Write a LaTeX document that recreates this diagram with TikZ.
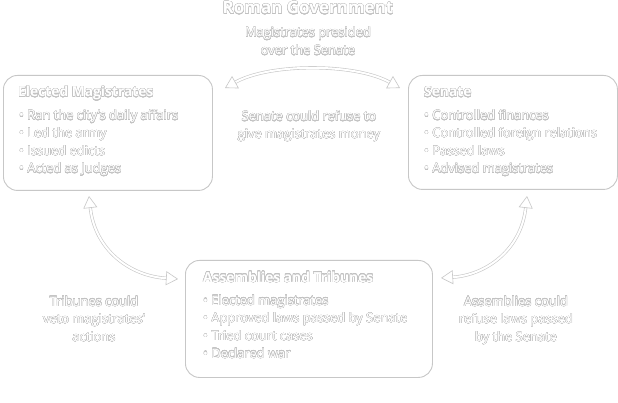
\documentclass[tikz,border=0pt]{standalone}
\usepackage{fontspec}
\setmainfont{Open Sans}
\usepackage{contour}
\usetikzlibrary{arrows.meta}
\definecolor{lineg}{gray}{0.78}
\definecolor{txtg}{gray}{0.76}
\contourlength{0.27pt}
\contournumber{24}
\newcommand\ot[1]{\contour{txtg}{#1}}
\begin{document}
\begin{tikzpicture}[x=1pt,y=-1pt,
  box/.style={draw=lineg, line width=0.9pt, rounded corners=14pt, fill=white, inner sep=0pt},
  txt/.style={inner sep=0pt, text=white, anchor=base west, font=\fontsize{12.9}{14}\selectfont},
  ctxt/.style={txt, anchor=base},
  hd/.style={inner sep=0pt, text=white, anchor=base west, font=\fontsize{13.8}{15}\selectfont\bfseries},
  ttl/.style={inner sep=0pt, text=white, anchor=base, font=\fontsize{17}{19}\selectfont\bfseries},
  arr/.style={draw=lineg, line width=0.6pt, double=white, double distance=2pt,
    {Triangle[open,length=12pt,width=14pt]}-{Triangle[open,length=12pt,width=14pt]}}]
\useasboundingbox (0,0) rectangle (618,403);
\fill[white] (0,0) rectangle (618,403);

\node[ttl] (title) at (308,14) {\ot{Roman Government}};
\node[ctxt] (top1) at (308,37) {\ot{Magistrates presided}};
\node[ctxt] (top2) at (308,55) {\ot{over the Senate}};

\node[box, minimum width=209pt, minimum height=115pt, anchor=north west] (mag) at (3,75) {};
\node[box, minimum width=209pt, minimum height=114pt, anchor=north west] (sen) at (408,75) {};
\node[box, minimum width=247pt, minimum height=117pt, anchor=north west] (ass) at (185,260) {};

\node[hd] (magh) at (18,97) {\ot{Elected Magistrates}};
\node[txt] (mag1) at (19,120) {\ot{• Ran the city's daily affairs}};
\node[txt] (mag2) at (19,137.7) {\ot{• Led the army}};
\node[txt] (mag3) at (19,155.4) {\ot{• Issued edicts}};
\node[txt] (mag4) at (19,173) {\ot{• Acted as Judges}};

\node[hd] (senh) at (424,97) {\ot{Senate}};
\node[txt] (sen1) at (424,120) {\ot{• Controlled finances}};
\node[txt] (sen2) at (424,137.7) {\ot{• Controlled foreign relations}};
\node[txt] (sen3) at (424,155.4) {\ot{• Passed laws}};
\node[txt] (sen4) at (424,173) {\ot{• Advised magistrates}};

\node[hd] (assh) at (203,282) {\ot{Assemblies and Tribunes}};
\node[txt] (ass1) at (203,305) {\ot{• Elected magistrates}};
\node[txt] (ass2) at (203,322.7) {\ot{• Approved laws passed by Senate}};
\node[txt] (ass3) at (203,340.4) {\ot{• Tried court cases}};
\node[txt] (ass4) at (203,358) {\ot{• Declared war}};

\node[ctxt] (mid1) at (309,121) {\ot{Senate could refuse to}};
\node[ctxt] (mid2) at (309,138.7) {\ot{give magistrates money}};

\node[ctxt] (lt1) at (94,306) {\ot{Tribunes could}};
\node[ctxt] (lt2) at (94,323.7) {\ot{veto magistrates'}};
\node[ctxt] (lt3) at (94,341.4) {\ot{actions}};

\node[ctxt] (rt1) at (516,306) {\ot{Assemblies could}};
\node[ctxt] (rt2) at (516,323.7) {\ot{refuse laws passed}};
\node[ctxt] (rt3) at (516,341.4) {\ot{by the Senate}};

\coordinate (tA) at (225,88);
\coordinate (tB) at (400,88);
\coordinate (lA) at (89,196);
\coordinate (lB) at (178,279);
\coordinate (rA) at (527,196);
\coordinate (rB) at (441,278);
\draw[arr] (tA) .. controls (270,63) and (355,63) .. (tB);
\draw[arr] (lA) .. controls (95,250) and (130,276) .. (lB);
\draw[arr] (rA) .. controls (521,250) and (486,275) .. (rB);
\end{tikzpicture}
\end{document}
